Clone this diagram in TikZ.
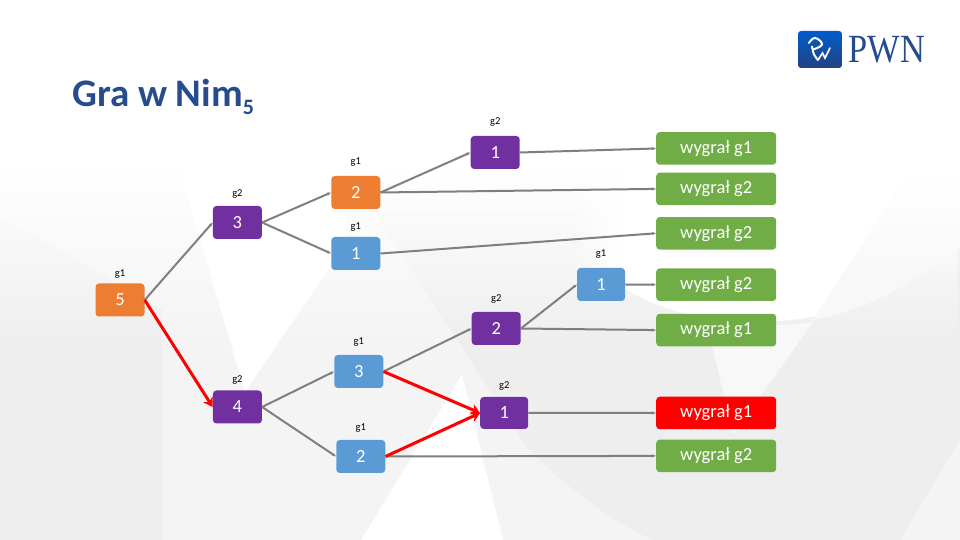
\documentclass[tikz,border=0pt]{standalone}
\usepackage{fontspec}
\usepackage{xcolor}
\usepackage{graphicx}
\usepackage{tikz}
\usetikzlibrary{arrows.meta,positioning,fadings}
\setmainfont{Carlito}
\newfontfamily\logofont{Liberation Serif}
\definecolor{nimorange}{HTML}{ED7D31}
\definecolor{nimpurple}{HTML}{7030A0}
\definecolor{nimblue}{HTML}{5B9BD5}
\definecolor{nimgreen}{HTML}{70AD47}
\definecolor{nimred}{HTML}{FF0000}
\definecolor{nimgray}{HTML}{7F7F7F}
\definecolor{nimtitle}{HTML}{264B8F}
\definecolor{bgone}{HTML}{F4F4F5}
\definecolor{bgtwo}{HTML}{EEEEEF}
\definecolor{bgthree}{HTML}{F8F8F8}

\begin{document}
\begin{tikzpicture}[x=1pt, y=1pt,
  box/.style={rounded corners=3.5pt, align=center, text=white, inner sep=0pt,
              font=\fontsize{18.5}{20}\selectfont, minimum height=33pt, minimum width=49pt},
  orangebox/.style={box, fill=nimorange},
  purplebox/.style={box, fill=nimpurple},
  bluebox/.style={box, fill=nimblue},
  endbox/.style={box, fill=nimgreen, minimum width=120pt, minimum height=32.5pt},
  lostbox/.style={endbox, fill=nimred},
  tag/.style={font=\fontsize{10.5}{11}\selectfont, inner sep=0pt},
  ar/.style={-{Stealth[length=4pt]}, nimgray, line width=2pt},
  redar/.style={-{Stealth[length=9pt,width=11pt]}, nimred, line width=3pt},
]
\useasboundingbox (0,0) rectangle (960,540);

% background
\fill[white] (0,0) rectangle (960,540);
\fill[bgone] (0,0) rectangle (960,370);
\fill[bgtwo] (0,0) -- (162,0) -- (162,230) -- (0,325) -- cycle;
\fill[white] (165,420) -- (245,148) -- (345,295) -- (345,420) -- cycle;
\fill[bgtwo] (373,330) -- (527,92) .. controls (570,50) and (610,20) .. (653,0)
  -- (900,0) -- (960,100) -- (960,330) -- cycle;
\fill[white] (361,0) -- (462,165) -- (503,0) -- cycle;
\fill[white, path fading=south] (0,190) rectangle (960,375);
\fill[white] (620,255) .. controls (690,205) and (850,195) .. (960,295) -- (960,400) -- (620,400) -- cycle;
\fill[white, path fading=west] (570,270) -- (620,255) -- (620,400) -- (570,400) -- cycle;
\fill[bgthree] (813,220) -- (903,360) -- (960,360) -- (960,295)
  .. controls (915,255) and (865,230) .. cycle;
\fill[bgthree] (705,225) -- (733,105) -- (813,218) .. controls (780,212) and (740,215) .. cycle;
\fill[white, path fading=south] (780,250) rectangle (960,365);

% tree
\node[orangebox] (five) at (120,240) {5};
\node[purplebox, right=68pt of five, yshift=77.5pt] (three) {3};
\node[purplebox, right=68pt of five, yshift=-107pt] (four) {4};

\node[orangebox, right=69pt of three, yshift=30pt] (twoA) {2};
\node[bluebox, right=69pt of three, yshift=-31pt] (oneA) {1};
\node[bluebox, right=72pt of four, yshift=35.5pt] (threeB) {3};
\node[bluebox, right=74pt of four, yshift=-49.5pt] (twoB) {2};

\node[purplebox, right=90pt of twoA, yshift=40pt] (oneC) {1};
\node[purplebox, right=88pt of threeB, yshift=43pt] (twoC) {2};
\node[purplebox, right=96.5pt of threeB, yshift=-41.5pt, minimum width=48pt, minimum height=32pt] (oneD) {1};
\node[bluebox, right=56pt of twoC, yshift=44pt, minimum width=48pt] (oneE) {1};

\node[endbox, anchor=west] (winA) at (656,391.5) {wygrał g1};
\node[endbox, below=7.5pt of winA] (winB) {wygrał g2};
\node[endbox, below=11.5pt of winB] (winC) {wygrał g2};
\node[endbox, below=18.5pt of winC] (winD) {wygrał g2};
\node[endbox, below=12.5pt of winD] (winE) {wygrał g1};
\node[lostbox, below=50pt of winE] (winF) {wygrał g1};
\node[endbox, below=10pt of winF] (winG) {wygrał g2};

\node[tag, above=5pt of five] (tagfive) {g1};
\node[tag, above=7pt of three] (tagthree) {g2};
\node[tag, above=6pt of four] (tagfour) {g2};
\node[tag, above=9pt of twoA] (tagtwoA) {g1};
\node[tag, above=5pt of oneA] (tagoneA) {g1};
\node[tag, above=8pt of threeB] (tagthreeB) {g1};
\node[tag, above=7pt of twoB] (tagtwoB) {g1};
\node[tag, above=9pt of oneC] (tagoneC) {g2};
\node[tag, above=8pt of twoC] (tagtwoC) {g2};
\node[tag, above=6pt of oneD] (tagoneD) {g2};
\node[tag, above=9pt of oneE] (tagoneE) {g1};

\draw[ar] (five.east) -- (three.west);
\draw[ar] (three.east) -- (twoA.west);
\draw[ar] (three.east) -- (oneA.west);
\draw[ar] (twoA.east) -- (oneC.west);
\draw[ar] (twoA.east) -- (winB.west);
\draw[ar] (oneA.east) -- (winC.west);
\draw[ar] (oneC.east) -- (winA.west);
\draw[ar] (four.east) -- (threeB.west);
\draw[ar] (four.east) -- (twoB.west);
\draw[ar] (threeB.east) -- (twoC.west);
\draw[ar] (twoC.east) -- (oneE.west);
\draw[ar] (twoC.east) -- (winE.west);
\draw[ar] (oneE.east) -- (winD.west);
\draw[ar] (oneD.east) -- (winF.west);
\draw[ar] (twoB.east) -- (winG.west);

\draw[redar] (five.east) -- (four.west);
\draw[redar] (threeB.east) -- (oneD.west);
\draw[redar] (twoB.east) -- (oneD.west);

% title and logo
\node[anchor=base west, inner sep=0pt, text=nimtitle, font=\fontsize{39}{42}\selectfont\bfseries] (title) at (72,433)
  {Gra w Nim\raisebox{-8pt}{\fontsize{22}{24}\selectfont 5}};

\node[minimum width=44pt, minimum height=37pt, rounded corners=3pt, inner sep=0pt,
      top color=blue!55!cyan!80!black, bottom color=nimtitle!90!black] (logo) at (820,490.5) {};
\begin{scope}[shift={(logo.center)}]
\draw[white, line width=2pt, line cap=round] plot[smooth, tension=.8] coordinates
  {(-11,6.5) (-5,11.5) (2,5) (-7,0)};
\draw[white, line width=2pt, line cap=round] plot[smooth, tension=.6] coordinates
  {(-8,3) (-6,-5) (-2,-10.5)};
\draw[white, line width=1.6pt, line cap=round] (-2,-10.5) -- (2.5,-3.5) -- (5,-8.5) -- (10,1.5);
\end{scope}
\node[right=6pt of logo, inner sep=0pt, text=nimtitle, font=\logofont\fontsize{40}{42}\selectfont] (pwn)
  {\scalebox{0.86}[1]{PWN}};
\end{tikzpicture}
\end{document}
